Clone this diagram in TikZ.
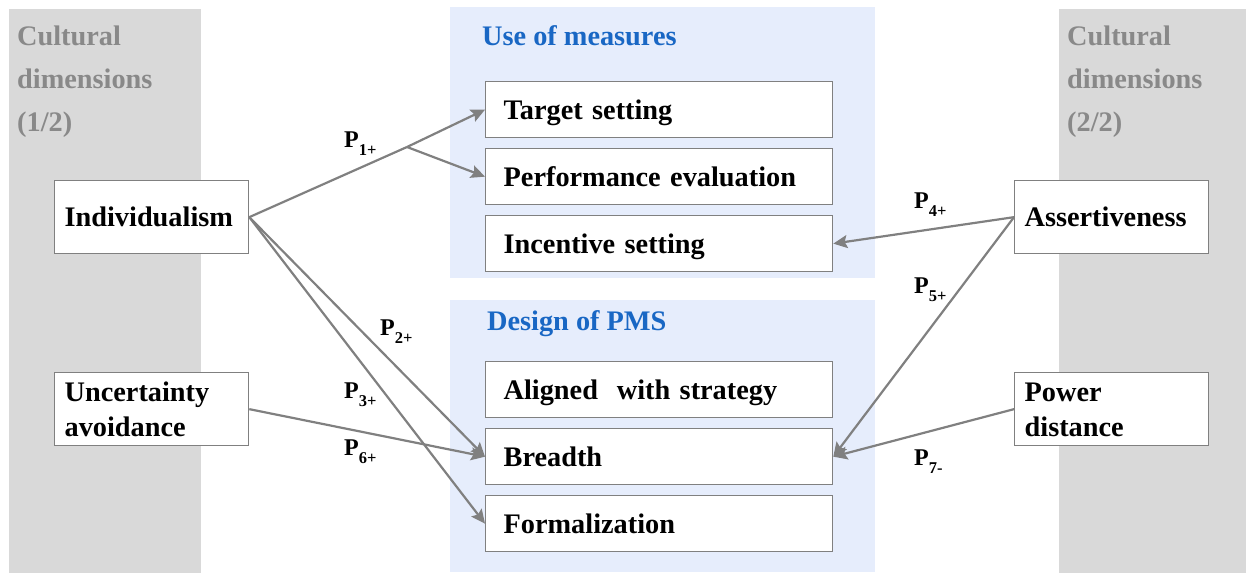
\documentclass[tikz,border=0pt]{standalone}
\usepackage{fontspec}
\setmainfont{Liberation Serif}
\usetikzlibrary{arrows.meta}
\definecolor{panelgrey}{RGB}{217,217,217}
\definecolor{paneltext}{RGB}{137,137,137}
\definecolor{panelblue}{RGB}{230,237,252}
\definecolor{titleblue}{RGB}{25,103,196}
\definecolor{linegrey}{RGB}{128,128,128}
% proposition label: bold P with a lowered index
\newcommand{\plabel}[1]{P{\fontsize{16.5}{16.5}\selectfont\raisebox{-8pt}{#1}}}
\begin{document}
\begin{tikzpicture}[x=1pt,y=-1pt,
  font=\bfseries\fontsize{28.3}{35}\selectfont,
  measure/.style={draw=linegrey, line width=1.3pt, fill=white, anchor=north west,
     minimum height=56pt, text width=311pt, inner xsep=18pt, inner ysep=0pt,
     text height=19.5pt, text depth=0pt, align=left},
  dimbox/.style={draw=linegrey, line width=1.3pt, fill=white, anchor=north west,
     minimum height=73pt, text width=174pt, inner xsep=10pt, inner ysep=0pt,
     text height=19.5pt, text depth=0pt, align=left},
  twoline/.style={text depth=35pt},
  link/.style={draw=linegrey, line width=2.2pt},
  arrow/.style={link, -{Stealth[length=14pt,width=13pt,inset=2.5pt]}},
  plab/.style={anchor=base west, inner sep=0pt, font=\bfseries\fontsize{24}{24}\selectfont},
  paneltitle/.style={anchor=base west, inner sep=0pt, text=titleblue},
  dimtitle/.style={anchor=base west, inner sep=0pt, text=paneltext, text width=180pt,
     align=left, font=\bfseries\fontsize{28.3}{43}\selectfont},
]
\useasboundingbox (0,0) rectangle (1246,573);

% background panels
\fill[panelgrey] (9,9) rectangle (201,573);
\fill[panelgrey] (1059,9) rectangle (1246,573);
\fill[panelblue] (450,7) rectangle (875,278);
\fill[panelblue] (450,300) rectangle (875,572);

% panel headings
\node[dimtitle] (dimleft) at (17,45) {Cultural\\dimensions\\(1/2)};
\node[dimtitle] (dimright) at (1067,45) {Cultural\\dimensions\\(2/2)};
\node[paneltitle] (usetitle) at (482,45) {Use of measures};
\node[paneltitle] (designtitle) at (487,330) {Design of PMS};

% elements of the performance measurement system
\node[measure] (target) at (485,81) {Target setting};
\node[measure] (perf) at (485,148) {Performance evaluation};
\node[measure] (incent) at (485,215) {Incentive setting};
\node[measure] (aligned) at (485,361) {Aligned\ \ with strategy};
\node[measure] (breadth) at (485,428) {Breadth};
\node[measure] (formal) at (485,495) {Formalization};

% cultural dimensions
\node[dimbox] (indiv) at (54,180) {Individualism};
\node[dimbox, twoline] (uncert) at (54,372) {Uncertainty\\avoidance};
\node[dimbox] (assert) at (1014,180) {Assertiveness};
\node[dimbox, twoline] (power) at (1014,372) {Power\\distance};

% propositions
\coordinate (split) at (407,147);
\draw[link] (indiv.east) -- (split);
\draw[arrow] (split) -- (target.west);
\draw[arrow] (split) -- (perf.west);
\draw[arrow] (indiv.east) -- (breadth.west);
\draw[arrow] (indiv.east) -- (formal.west);
\draw[arrow] (uncert.east) -- (breadth.west);
\draw[arrow] (assert.west) -- (incent.east);
\draw[arrow] (assert.west) -- (breadth.east);
\draw[arrow] (power.west) -- (breadth.east);

\node[plab] (p1) at (344,147) {\plabel{1+}};
\node[plab] (p2) at (380,335) {\plabel{2+}};
\node[plab] (p3) at (344,398) {\plabel{3+}};
\node[plab] (p6) at (344,455) {\plabel{6+}};
\node[plab] (p4) at (914,208) {\plabel{4+}};
\node[plab] (p5) at (914,293) {\plabel{5+}};
\node[plab] (p7) at (914,465) {\plabel{7-}};
\end{tikzpicture}
\end{document}
